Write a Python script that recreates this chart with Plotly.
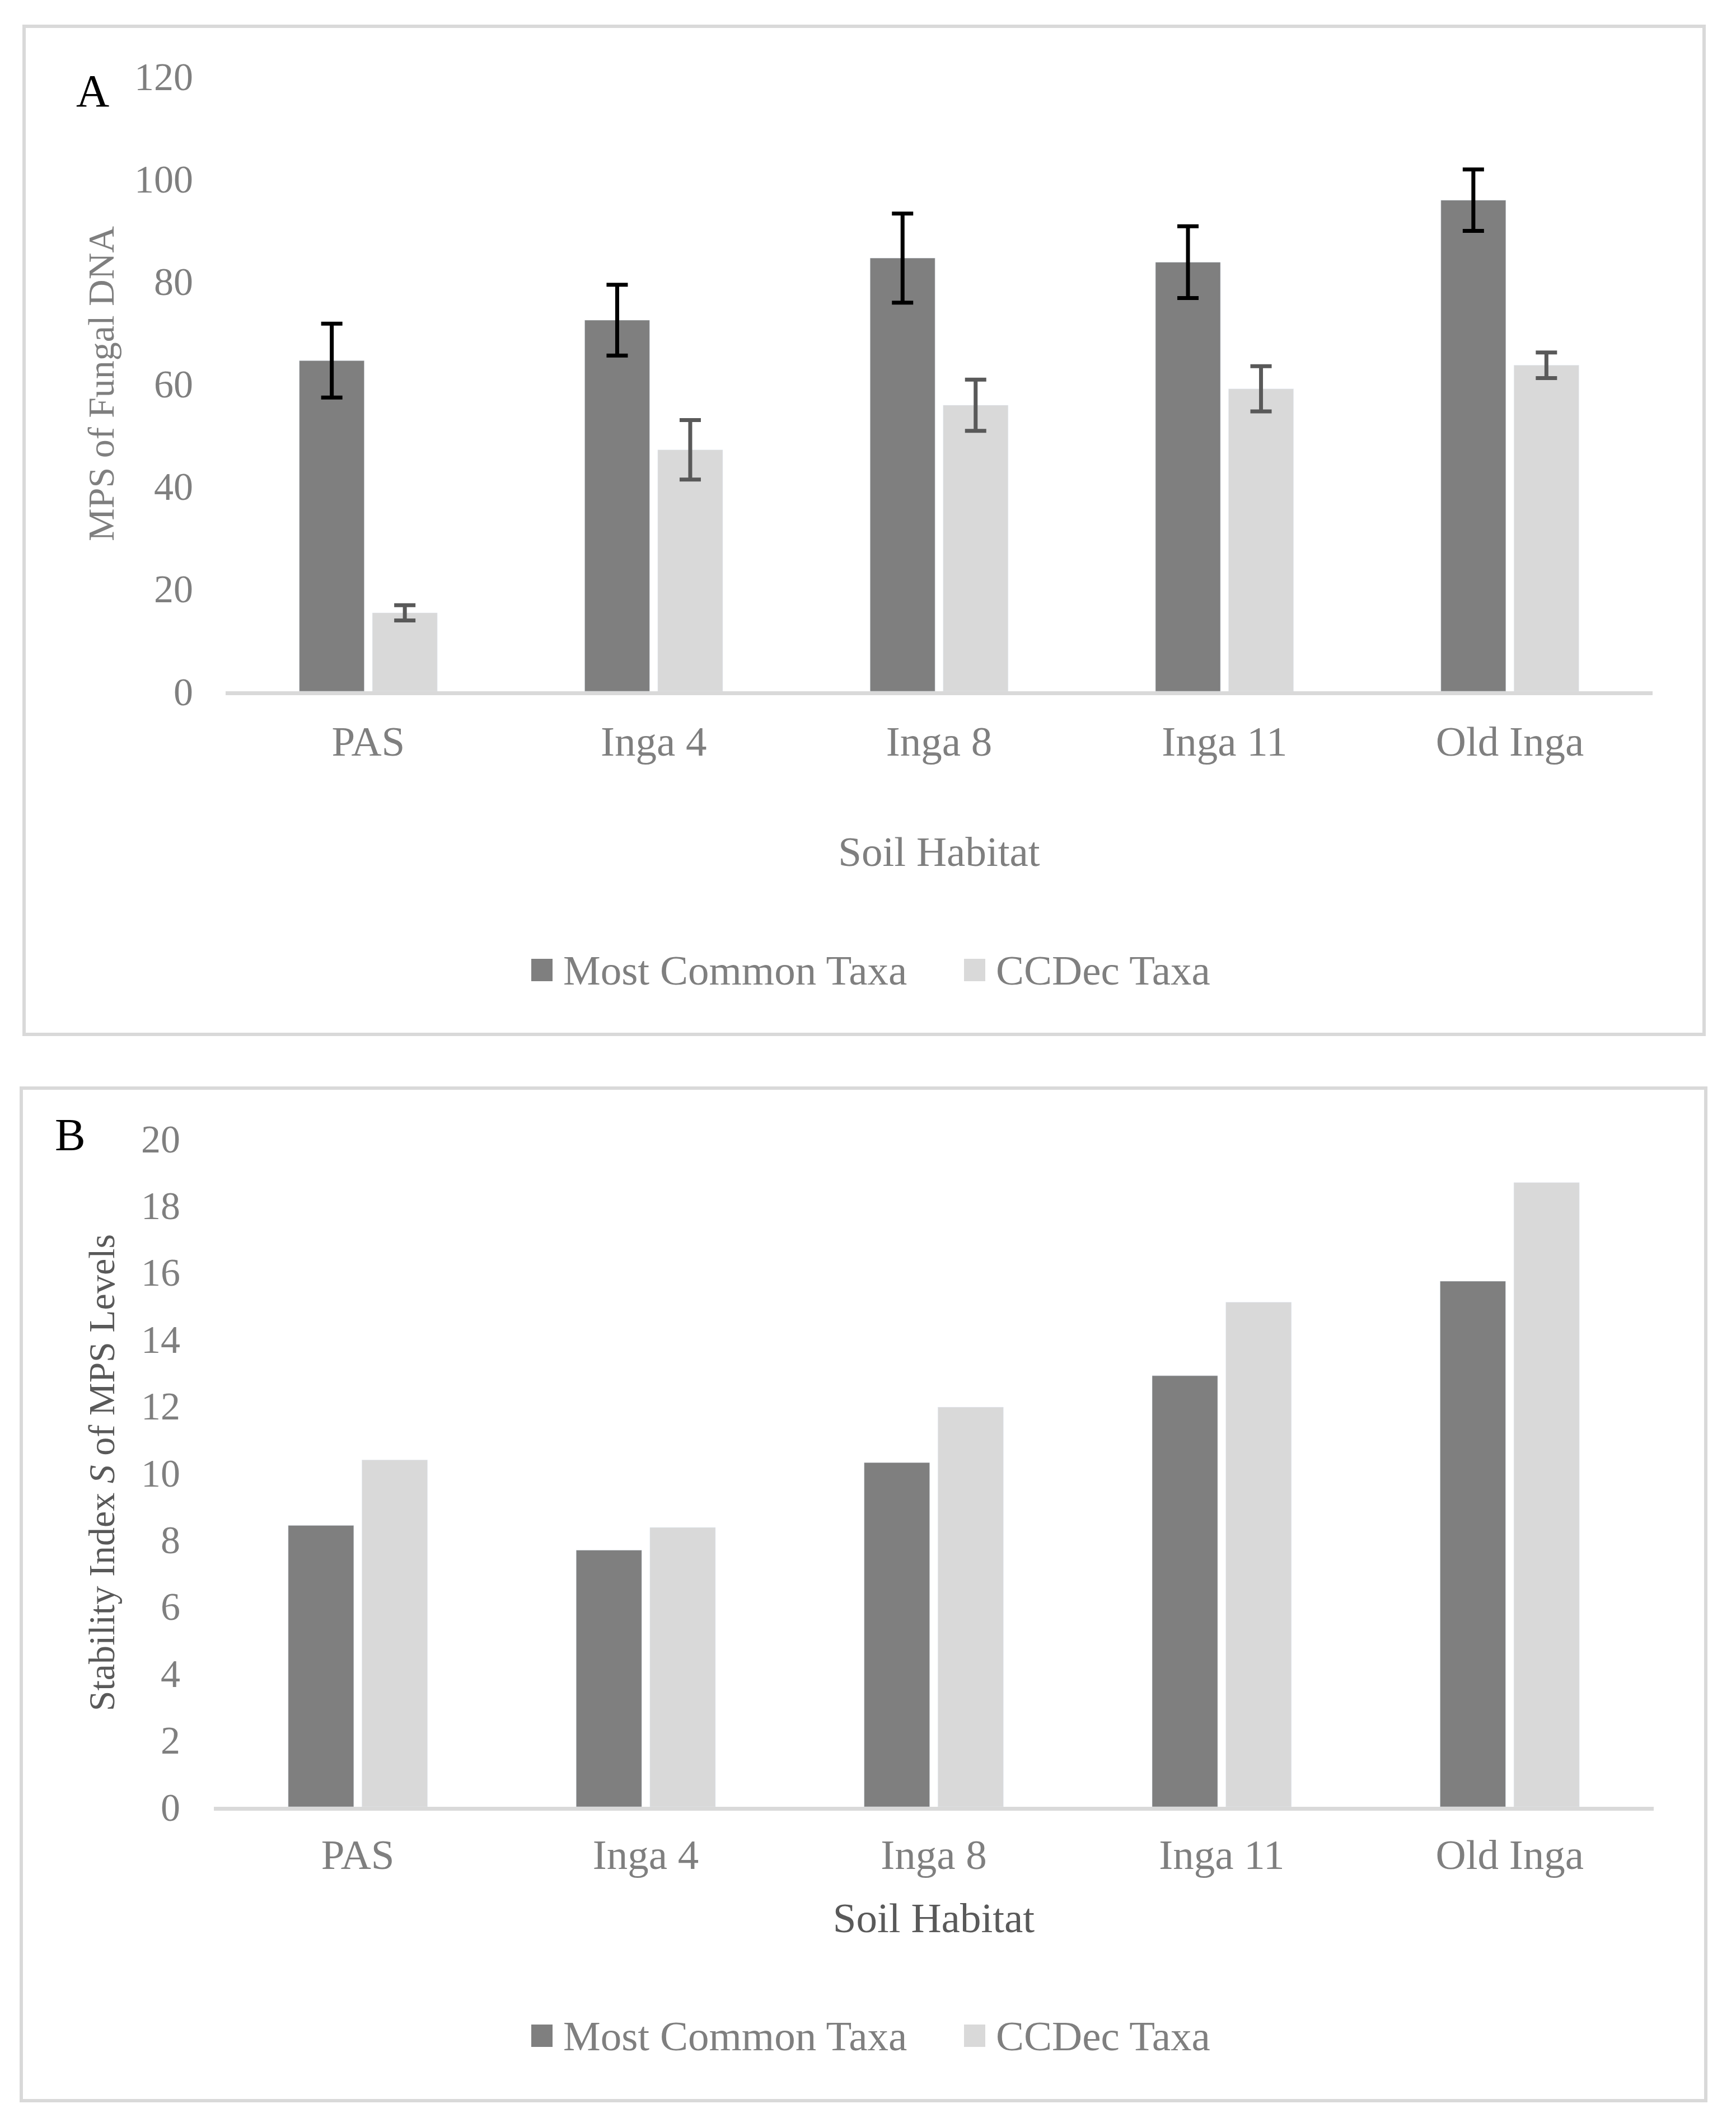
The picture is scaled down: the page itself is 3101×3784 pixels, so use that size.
import plotly.graph_objects as go

W, H = 3101, 3784

categories = ["PAS", "Inga 4", "Inga 8", "Inga 11", "Old Inga"]
series_names = ["Most Common Taxa", "CCDec Taxa"]

# Panel A: MPS of fungal DNA (mean +/- error)
mps_common = [64.5, 72.4, 84.5, 83.7, 95.8]
mps_common_err = [7.2, 6.9, 8.7, 7.0, 6.0]
mps_ccdec = [15.3, 47.1, 55.8, 59.0, 63.6]
mps_ccdec_err = [1.5, 5.8, 5.0, 4.4, 2.5]

# Panel B: stability index S
stab_common = [8.42, 7.68, 10.30, 12.9, 15.73]
stab_ccdec = [10.38, 8.36, 11.96, 15.1, 18.68]

yticks_a = [0, 20, 40, 60, 80, 100, 120]
yticks_b = [0, 2, 4, 6, 8, 10, 12, 14, 16, 18, 20]

DARK = "#7f7f7f"
LIGHT = "#d9d9d9"
TXT = "#7f7f7f"
TXT2 = "#595959"
FONT = "Liberation Serif"


def px_x(v):
    return v / W


def px_y(v):
    return 1 - v / H


fig = go.Figure()

fig.add_trace(go.Bar(
    x=categories, y=mps_common, name=series_names[0], marker_color=DARK,
    error_y=dict(type="data", array=mps_common_err, visible=True, color="#000000",
                 thickness=7, width=19),
    xaxis="x", yaxis="y", showlegend=False))
fig.add_trace(go.Bar(
    x=categories, y=mps_ccdec, name=series_names[1], marker_color=LIGHT,
    error_y=dict(type="data", array=mps_ccdec_err, visible=True, color="#595959",
                 thickness=7, width=19),
    xaxis="x", yaxis="y", showlegend=False))
fig.add_trace(go.Bar(
    x=categories, y=stab_common, name=series_names[0], marker_color=DARK,
    xaxis="x2", yaxis="y2", showlegend=False))
fig.add_trace(go.Bar(
    x=categories, y=stab_ccdec, name=series_names[1], marker_color=LIGHT,
    xaxis="x2", yaxis="y2", showlegend=False))

axis_common = dict(showgrid=False, zeroline=False, fixedrange=True)

fig.update_layout(
    width=W, height=H,
    margin=dict(l=0, r=0, t=0, b=0, autoexpand=False),
    paper_bgcolor="white", plot_bgcolor="white",
    barmode="group", bargap=0.488, bargroupgap=0.111,
    font=dict(family=FONT, color=TXT, size=75),
    xaxis=dict(domain=[px_x(395), px_x(2944)], anchor="y", showline=True,
               linecolor=LIGHT, linewidth=7, ticks="",
               tickfont=dict(family=FONT, size=75, color=TXT),
               ticklabelstandoff=18,
               title=dict(text="Soil Habitat", font=dict(family=FONT, size=75, color=TXT),
                          standoff=132),
               **axis_common),
    yaxis=dict(domain=[px_y(1227), px_y(128)], anchor="x", range=[0, 120],
               tickvals=yticks_a, showline=False, ticks="",
               tickfont=dict(family=FONT, size=70, color=TXT),
               ticklabelstandoff=57,
               title=dict(text="MPS of Fungal DNA", font=dict(family=FONT, size=66, color=TXT),
                          standoff=14),
               **axis_common),
    xaxis2=dict(domain=[px_x(374), px_x(2946)], anchor="y2", showline=True,
                linecolor=LIGHT, linewidth=7, ticks="",
                tickfont=dict(family=FONT, size=75, color=TXT),
                ticklabelstandoff=14,
                title=dict(text="Soil Habitat", font=dict(family=FONT, size=75, color=TXT2),
                           standoff=48),
                **axis_common),
    yaxis2=dict(domain=[px_y(3220), px_y(2026)], anchor="x2", range=[0, 20],
                tickvals=yticks_b, showline=False, ticks="",
                tickfont=dict(family=FONT, size=70, color=TXT),
                ticklabelstandoff=59,
                title=dict(text="Stability Index <i>S</i> of MPS Levels",
                           font=dict(family=FONT, size=66, color=TXT2),
                           standoff=25),
                **axis_common),
    showlegend=False,
)

shapes = []
# panel frames
for (x0, y0, x1, y1) in [(35, 39, 3036, 1840), (30, 1936, 3039, 3745)]:
    shapes.append(dict(type="rect", xref="paper", yref="paper",
                       x0=px_x(x0), x1=px_x(x1), y0=px_y(y1), y1=px_y(y0),
                       line=dict(color=LIGHT, width=6), fillcolor="rgba(0,0,0,0)",
                       layer="below"))

annotations = []
# manual legends (one per panel)
for cy in [1725, 3629]:
    for (mx, tx, name, col) in [(941, 996, series_names[0], DARK),
                                (1714, 1769, series_names[1], LIGHT)]:
        shapes.append(dict(type="rect", xref="paper", yref="paper",
                           x0=px_x(mx), x1=px_x(mx + 38),
                           y0=px_y(cy + 20), y1=px_y(cy - 20),
                           line=dict(width=0), fillcolor=col))
        annotations.append(dict(text=name, xref="paper", yref="paper",
                                x=px_x(tx), y=px_y(cy), xanchor="left", yanchor="middle",
                                showarrow=False,
                                font=dict(family=FONT, size=75, color=TXT)))

# panel letters
annotations.append(dict(text="A", xref="paper", yref="paper", x=px_x(157), y=px_y(155),
                        xanchor="center", yanchor="middle", showarrow=False,
                        font=dict(family=FONT, size=82, color="#000000")))
annotations.append(dict(text="B", xref="paper", yref="paper", x=px_x(117), y=px_y(2019),
                        xanchor="center", yanchor="middle", showarrow=False,
                        font=dict(family=FONT, size=82, color="#000000")))

fig.update_layout(shapes=shapes, annotations=annotations)

fig.write_html("out.html")
